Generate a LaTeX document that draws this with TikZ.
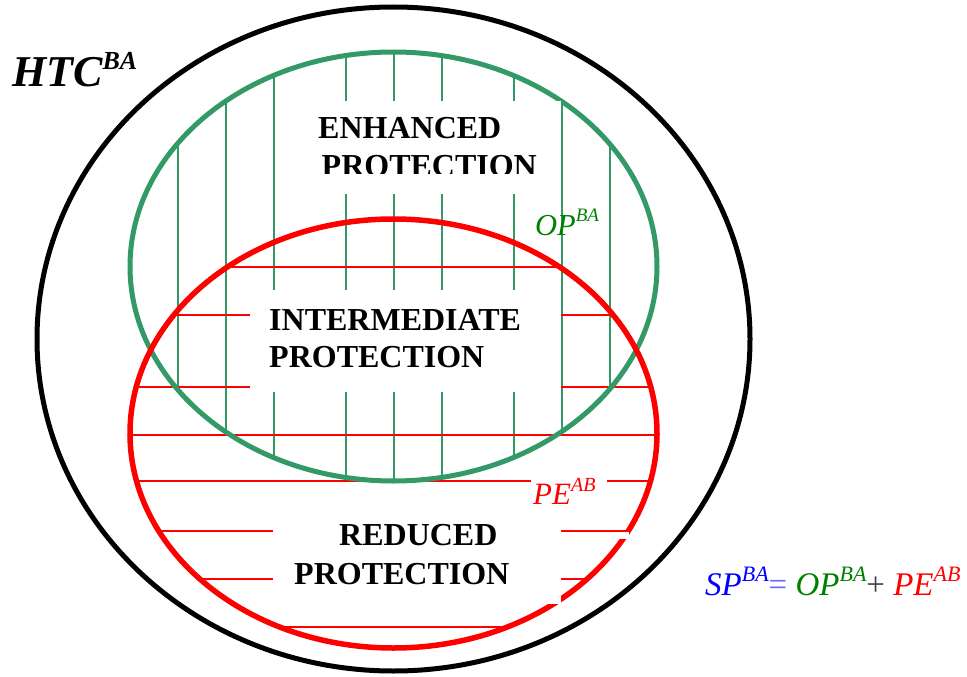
\documentclass[tikz,border=0pt]{standalone}
\usepackage{fontspec}
\setmainfont{Liberation Serif}
\definecolor{pgreen}{RGB}{51,153,102}
\definecolor{opgreen}{RGB}{0,128,0}
\definecolor{spblue}{RGB}{0,0,255}
\definecolor{eqblue}{RGB}{102,102,255}
\definecolor{plusgray}{RGB}{64,64,64}
\newcommand{\supx}[3]{\raisebox{#2pt}{\fontsize{#1}{#1}\selectfont #3}}
\begin{document}
\begin{tikzpicture}[x=1pt,y=-1pt,
  hatchg/.style={pgreen, line width=1.6pt},
  hatchr/.style={red, line width=2pt},
  mask/.style={fill=white, draw=none},
  lbl/.style={anchor=base west, inner sep=0pt, font=\fontsize{32}{38}\selectfont\bfseries},
  tag/.style={anchor=base west, inner sep=0pt}
]
\useasboundingbox (0,0) rectangle (967,677);
% vertical green hatching
\begin{scope}
  \clip (393.5,266.5) ellipse [x radius=263.5, y radius=214.5];
  \foreach \x in {178,226,274,346,394,442,514,562,610}
    \draw[hatchg] (\x,40) -- (\x,490);
\end{scope}
% horizontal red hatching
\begin{scope}
  \clip (393.5,433.5) ellipse [x radius=266, y radius=215];
  \foreach \y in {267,315,387,435,481,530.7,578.7,626.7}
    \draw[hatchr] (120,\y) -- (670,\y);
\end{scope}
% sets
\draw[black, line width=5pt] (393.5,339) ellipse [x radius=356.5, y radius=332];
\draw[pgreen, line width=5pt] (393.5,266.5) ellipse [x radius=263.5, y radius=214.5];
\draw[red, line width=5.5pt] (393.5,433.5) ellipse [x radius=263.5, y radius=214.5];
% text masks
\path[mask] (298,101) rectangle (560.5,194);
\path[mask] (250,290) rectangle (560.5,391.5);
\path[mask] (273,500) rectangle (561,604);
\path[mask] (531,468) rectangle (607,506);
\path[mask] (615,532) rectangle (629,538.5);
% region labels
\begin{scope}
  \clip (0,0) rectangle (967,173.3);
  \node[lbl] (enh1) at (318,139) {ENHANCED};
  \node[lbl] (enh2) at (321.5,176.7) {PROTECTION};
\end{scope}
\node[lbl] (int1) at (269,330) {INTERMEDIATE};
\node[lbl] (int2) at (269,367.7) {PROTECTION};
\node[lbl] (red1) at (339,545.7) {REDUCED};
\node[lbl] (red2) at (294,584.3) {PROTECTION};
% set names
\node[tag, text=opgreen, font=\fontsize{30.5}{36}\selectfont\itshape] (op) at (535,235) {OP\supx{19}{14}{BA}};
\node[tag, text=red, font=\fontsize{31}{36}\selectfont\itshape] (pe) at (533,504) {PE\supx{20}{13}{AB}};
\node[tag, text=black, font=\fontsize{44}{50}\selectfont\bfseries\itshape] (htc) at (12,86) {HTC\supx{26}{17}{BA}};
\node[tag, font=\fontsize{33}{38}\selectfont\itshape] (sp) at (705,595)
  {\textcolor{spblue}{SP\supx{22}{13.5}{BA}}\textcolor{eqblue}{\upshape=} \textcolor{opgreen}{OP\supx{22}{13.5}{BA}}\textcolor{plusgray}{\upshape+} \textcolor{red}{PE\supx{22}{13.5}{AB}}};
\end{tikzpicture}
\end{document}
